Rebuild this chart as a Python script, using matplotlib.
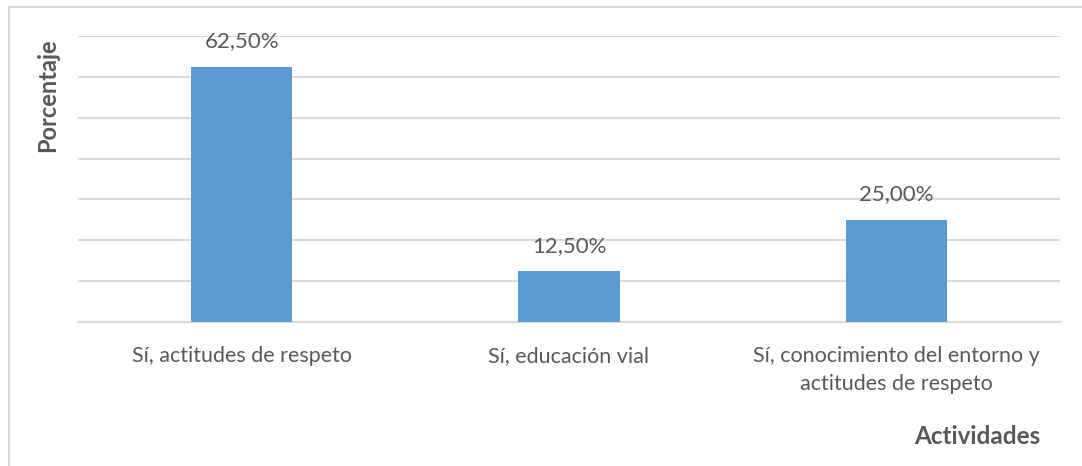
import matplotlib
matplotlib.use("Agg")
import matplotlib.pyplot as plt
from matplotlib.lines import Line2D

categories = ["Sí, actitudes de respeto", "Sí, educación vial",
              "Sí, conocimiento del entorno y\nactitudes de respeto"]
values = [62.5, 12.5, 25.0]
labels = ["62,50%", "12,50%", "25,00%"]

plt.rcParams['font.family'] = ['Lato', 'DejaVu Sans']
txt = '#595959'

fig = plt.figure(figsize=(10.82, 4.66), dpi=100)
ax = fig.add_axes([78/1082, (466-322)/466, (1060-78)/1082, (322-36)/466])

x = range(len(categories))
bars = ax.bar(x, values, width=0.31, color='#5b9bd5', zorder=3)
ax.set_xlim(-0.5, 2.5)
ax.set_ylim(0, 70)
ax.set_yticks(range(0, 71, 10))
ax.yaxis.grid(True, color='#d9d9d9', linewidth=1.5, zorder=0)
ax.tick_params(axis='y', length=0, labelleft=False)
ax.tick_params(axis='x', length=0, pad=17, labelsize=15.5, labelcolor=txt)
ax.set_xticks(list(x))
ax.set_xticklabels(categories, linespacing=1.55)
for s in ['top', 'right', 'left']:
    ax.spines[s].set_visible(False)
ax.spines['bottom'].set_color('#d9d9d9')
ax.spines['bottom'].set_linewidth(1.5)

for b, lab in zip(bars, labels):
    ax.annotate(lab, (b.get_x() + b.get_width()/2, b.get_height()),
                xytext=(0, 11), textcoords='offset points',
                ha='center', va='bottom', fontsize=16, color=txt)

fig.text(48/1082, 1 - 95/466, "Porcentaje", rotation=90, ha='center', va='center',
         fontsize=17, fontweight='bold', color=txt)
fig.text(1040/1082, 1 - 437/466, "Actividades", ha='right', va='center',
         fontsize=17.5, fontweight='bold', color=txt)

fig.add_artist(Line2D([9/1082, 9/1082], [0, 1 - 7/466], transform=fig.transFigure,
                      color='#d9d9d9', linewidth=1.5))
fig.add_artist(Line2D([9/1082, 1], [1 - 7/466, 1 - 7/466], transform=fig.transFigure,
                      color='#d9d9d9', linewidth=1.5))

fig.savefig("out.png", dpi=100)
